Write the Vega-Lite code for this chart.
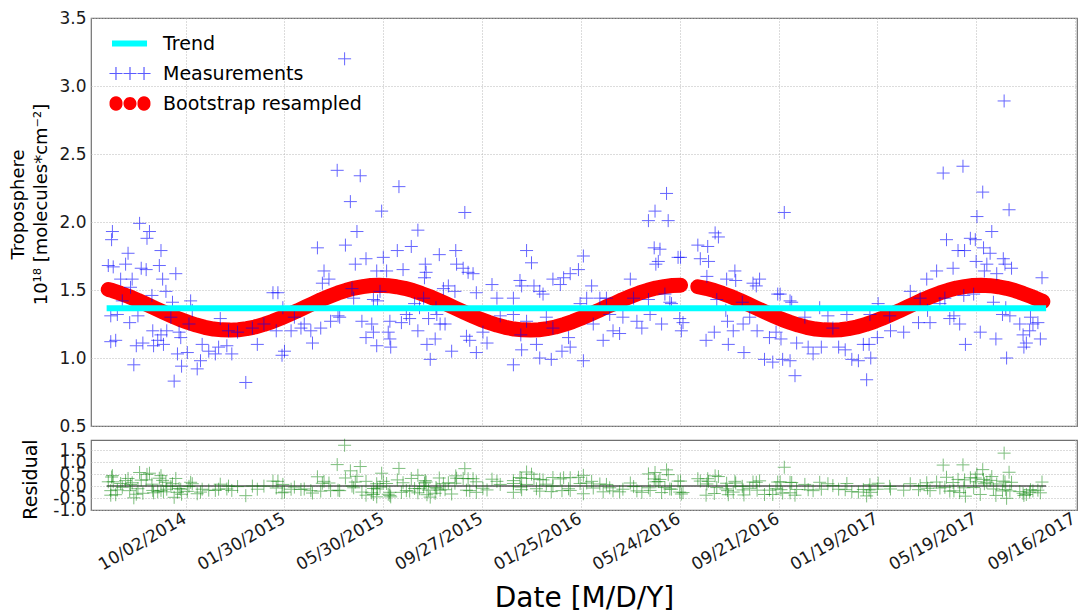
{
  "$schema": "https://vega.github.io/schema/vega-lite/v6.json",
  "padding": {"left": 8, "top": 8, "right": 0, "bottom": 0},
  "background": "white",
  "config": {
    "font": "DejaVu Sans",
    "view": {"stroke": "#707070", "strokeWidth": 1.2},
    "axis": {"grid": true, "gridColor": "#b8b8b8", "gridDash": [1, 2], "gridWidth": 1, "domain": false, "ticks": false, "tickSize": 0, "labelFont": "DejaVu Sans", "titleFont": "DejaVu Sans", "labelColor": "#1a1a1a", "titleColor": "#000000", "titleFontWeight": "normal"}
  },
  "datasets": {
    "leg": [],
    "trend": [{"d": "2014-06-28", "v": 1.365}, {"d": "2017-08-12", "v": 1.365}],
    "zero": [{"d": "2014-06-28", "r": 0}, {"d": "2017-08-12", "r": 0}],
    "boot": [
      {"d":"2014-06-30","v":1.504,"s":1},{"d":"2014-07-05","v":1.496,"s":1},{"d":"2014-07-15","v":1.475,"s":1},{"d":"2014-07-25","v":1.452,"s":1},
      {"d":"2014-08-05","v":1.424,"s":1},{"d":"2014-08-15","v":1.396,"s":1},{"d":"2014-08-25","v":1.368,"s":1},
      {"d":"2014-09-05","v":1.337,"s":1},{"d":"2014-09-15","v":1.310,"s":1},{"d":"2014-09-25","v":1.284,"s":1},
      {"d":"2014-10-05","v":1.262,"s":1},{"d":"2014-10-15","v":1.242,"s":1},{"d":"2014-10-25","v":1.226,"s":1},
      {"d":"2014-11-05","v":1.213,"s":1},{"d":"2014-11-15","v":1.207,"s":1},{"d":"2014-11-25","v":1.205,"s":1},
      {"d":"2014-12-05","v":1.208,"s":1},{"d":"2014-12-15","v":1.216,"s":1},{"d":"2014-12-25","v":1.228,"s":1},
      {"d":"2015-01-05","v":1.247,"s":1},{"d":"2015-01-15","v":1.268,"s":1},{"d":"2015-01-25","v":1.292,"s":1},
      {"d":"2015-02-05","v":1.321,"s":1},{"d":"2015-02-15","v":1.348,"s":1},{"d":"2015-02-25","v":1.377,"s":1},
      {"d":"2015-03-05","v":1.399,"s":1},{"d":"2015-03-15","v":1.427,"s":1},{"d":"2015-03-25","v":1.452,"s":1},
      {"d":"2015-04-05","v":1.478,"s":1},{"d":"2015-04-15","v":1.498,"s":1},{"d":"2015-04-25","v":1.514,"s":1},
      {"d":"2015-05-05","v":1.525,"s":1},{"d":"2015-05-15","v":1.533,"s":1},{"d":"2015-05-25","v":1.535,"s":1},
      {"d":"2015-06-05","v":1.532,"s":1},{"d":"2015-06-15","v":1.524,"s":1},{"d":"2015-06-25","v":1.512,"s":1},
      {"d":"2015-07-05","v":1.496,"s":1},{"d":"2015-07-15","v":1.475,"s":1},{"d":"2015-07-25","v":1.452,"s":1},
      {"d":"2015-08-05","v":1.424,"s":1},{"d":"2015-08-15","v":1.396,"s":1},{"d":"2015-08-25","v":1.368,"s":1},
      {"d":"2015-09-05","v":1.337,"s":1},{"d":"2015-09-15","v":1.310,"s":1},{"d":"2015-09-25","v":1.284,"s":1},
      {"d":"2015-10-05","v":1.262,"s":1},{"d":"2015-10-15","v":1.242,"s":1},{"d":"2015-10-25","v":1.226,"s":1},
      {"d":"2015-11-05","v":1.213,"s":1},{"d":"2015-11-15","v":1.207,"s":1},{"d":"2015-11-25","v":1.205,"s":1},
      {"d":"2015-12-05","v":1.208,"s":1},{"d":"2015-12-15","v":1.216,"s":1},{"d":"2015-12-25","v":1.228,"s":1},
      {"d":"2016-01-05","v":1.247,"s":1},{"d":"2016-01-15","v":1.268,"s":1},{"d":"2016-01-25","v":1.292,"s":1},
      {"d":"2016-02-05","v":1.321,"s":1},{"d":"2016-02-15","v":1.348,"s":1},{"d":"2016-02-25","v":1.377,"s":1},
      {"d":"2016-03-05","v":1.399,"s":1},{"d":"2016-03-15","v":1.427,"s":1},{"d":"2016-03-25","v":1.452,"s":1},
      {"d":"2016-04-05","v":1.478,"s":1},{"d":"2016-04-15","v":1.498,"s":1},{"d":"2016-04-25","v":1.514,"s":1},
      {"d":"2016-05-05","v":1.525,"s":1},{"d":"2016-05-15","v":1.533,"s":1},{"d":"2016-05-25","v":1.535,"s":1},
      {"d":"2016-06-15","v":1.524,"s":2},{"d":"2016-06-25","v":1.512,"s":2},
      {"d":"2016-07-05","v":1.496,"s":2},{"d":"2016-07-15","v":1.475,"s":2},{"d":"2016-07-25","v":1.452,"s":2},
      {"d":"2016-08-05","v":1.424,"s":2},{"d":"2016-08-15","v":1.396,"s":2},{"d":"2016-08-25","v":1.368,"s":2},
      {"d":"2016-09-05","v":1.337,"s":2},{"d":"2016-09-15","v":1.310,"s":2},{"d":"2016-09-25","v":1.284,"s":2},
      {"d":"2016-10-05","v":1.262,"s":2},{"d":"2016-10-15","v":1.242,"s":2},{"d":"2016-10-25","v":1.226,"s":2},
      {"d":"2016-11-05","v":1.213,"s":2},{"d":"2016-11-15","v":1.207,"s":2},{"d":"2016-11-25","v":1.205,"s":2},
      {"d":"2016-12-05","v":1.208,"s":2},{"d":"2016-12-15","v":1.216,"s":2},{"d":"2016-12-25","v":1.228,"s":2},
      {"d":"2017-01-05","v":1.247,"s":2},{"d":"2017-01-15","v":1.268,"s":2},{"d":"2017-01-25","v":1.292,"s":2},
      {"d":"2017-02-05","v":1.321,"s":2},{"d":"2017-02-15","v":1.348,"s":2},{"d":"2017-02-25","v":1.377,"s":2},
      {"d":"2017-03-05","v":1.399,"s":2},{"d":"2017-03-15","v":1.427,"s":2},{"d":"2017-03-25","v":1.452,"s":2},
      {"d":"2017-04-05","v":1.478,"s":2},{"d":"2017-04-15","v":1.498,"s":2},{"d":"2017-04-25","v":1.514,"s":2},
      {"d":"2017-05-05","v":1.525,"s":2},{"d":"2017-05-15","v":1.533,"s":2},{"d":"2017-05-25","v":1.535,"s":2},
      {"d":"2017-06-05","v":1.532,"s":2},{"d":"2017-06-15","v":1.524,"s":2},{"d":"2017-06-25","v":1.512,"s":2},
      {"d":"2017-07-05","v":1.496,"s":2},{"d":"2017-07-15","v":1.475,"s":2},{"d":"2017-07-25","v":1.452,"s":2},
      {"d":"2017-08-05","v":1.424,"s":2},{"d":"2017-08-08","v":1.416,"s":2}
    ],
    "meas": [
      {"d":"2014-07-05","v":1.93,"r":0.44},{"d":"2014-07-04","v":1.87,"r":0.38},{"d":"2014-08-07","v":1.99,"r":0.57},{"d":"2014-08-19","v":1.93,"r":0.54},
      {"d":"2014-08-16","v":1.88,"r":0.49},{"d":"2014-07-24","v":1.77,"r":0.32},{"d":"2014-09-02","v":1.79,"r":0.44},{"d":"2014-06-30","v":1.68,"r":0.18},
      {"d":"2014-07-06","v":1.67,"r":0.18},{"d":"2014-07-21","v":1.69,"r":0.23},{"d":"2014-08-09","v":1.66,"r":0.25},{"d":"2014-08-15","v":1.65,"r":0.26},
      {"d":"2014-08-31","v":1.68,"r":0.33},{"d":"2014-09-20","v":1.62,"r":0.32},{"d":"2014-07-15","v":1.58,"r":0.11},{"d":"2014-07-29","v":1.58,"r":0.14},
      {"d":"2014-09-04","v":1.58,"r":0.24},{"d":"2014-09-08","v":1.49,"r":0.16},{"d":"2014-08-22","v":1.46,"r":0.08},{"d":"2014-07-27","v":1.52,"r":0.07},
      {"d":"2014-07-17","v":1.42,"r":-0.05},{"d":"2014-07-03","v":1.31,"r":-0.19},{"d":"2014-07-11","v":1.32,"r":-0.16},{"d":"2014-08-05","v":1.31,"r":-0.11},
      {"d":"2014-07-26","v":1.26,"r":-0.19},{"d":"2014-09-16","v":1.41,"r":0.10},{"d":"2014-10-08","v":1.42,"r":0.16},{"d":"2014-10-10","v":1.35,"r":0.10},
      {"d":"2014-09-14","v":1.30,"r":-0.01},{"d":"2014-08-23","v":1.20,"r":-0.18},{"d":"2014-09-02","v":1.17,"r":-0.18},{"d":"2014-09-09","v":1.20,"r":-0.13},
      {"d":"2014-09-24","v":1.19,"r":-0.10},{"d":"2014-08-29","v":1.13,"r":-0.23},{"d":"2014-07-03","v":1.12,"r":-0.38},{"d":"2014-07-09","v":1.13,"r":-0.36},
      {"d":"2014-08-03","v":1.09,"r":-0.34},{"d":"2014-08-11","v":1.11,"r":-0.30},{"d":"2014-08-24","v":1.09,"r":-0.28},{"d":"2014-09-05","v":1.10,"r":-0.24},
      {"d":"2014-09-26","v":1.15,"r":-0.13},{"d":"2014-09-22","v":1.03,"r":-0.26},{"d":"2014-10-04","v":1.04,"r":-0.22},{"d":"2014-07-31","v":0.95,"r":-0.49},
      {"d":"2014-09-27","v":0.94,"r":-0.34},{"d":"2014-10-20","v":0.98,"r":-0.25},{"d":"2014-10-16","v":0.92,"r":-0.32},{"d":"2014-09-18","v":0.83,"r":-0.47},
      {"d":"2014-10-22","v":1.10,"r":-0.13},{"d":"2014-10-30","v":1.05,"r":-0.17},{"d":"2014-11-11","v":1.08,"r":-0.13},{"d":"2014-11-21","v":1.09,"r":-0.12},
      {"d":"2014-11-27","v":1.03,"r":-0.18},{"d":"2014-11-07","v":1.03,"r":-0.18},{"d":"2014-11-13","v":1.29,"r":0.08},{"d":"2014-11-23","v":1.20,"r":0.00},
      {"d":"2014-10-06","v":1.25,"r":-0.01},{"d":"2014-12-14","v":0.82,"r":-0.40},{"d":"2014-12-28","v":1.10,"r":-0.13},{"d":"2015-01-16","v":1.48,"r":0.21},
      {"d":"2015-01-22","v":1.48,"r":0.20},{"d":"2015-01-28","v":1.37,"r":0.07},{"d":"2015-01-30","v":1.05,"r":-0.25},{"d":"2015-01-27","v":1.02,"r":-0.28},
      {"d":"2015-01-20","v":1.20,"r":-0.08},{"d":"2015-02-11","v":1.30,"r":-0.04},{"d":"2015-02-23","v":1.25,"r":-0.12},{"d":"2015-03-03","v":1.20,"r":-0.19},
      {"d":"2015-03-05","v":1.11,"r":-0.29},{"d":"2015-03-15","v":1.22,"r":-0.21},{"d":"2015-03-27","v":1.27,"r":-0.19},{"d":"2015-04-05","v":1.31,"r":-0.17},
      {"d":"2015-03-11","v":1.81,"r":0.39},{"d":"2015-03-19","v":1.64,"r":0.20},{"d":"2015-03-17","v":1.55,"r":0.12},{"d":"2015-03-25","v":1.58,"r":0.13},
      {"d":"2015-04-04","v":2.38,"r":0.90},{"d":"2015-02-19","v":1.22,"r":-0.14},{"d":"2015-02-07","v":1.20,"r":-0.13},{"d":"2014-12-22","v":1.22,"r":0.00},
      {"d":"2015-01-05","v":1.25,"r":0.00},{"d":"2014-12-04","v":1.19,"r":-0.02},{"d":"2015-04-13","v":3.20,"r":1.71},
      {"d":"2015-05-02","v":2.34,"r":0.82},{"d":"2015-06-18","v":2.26,"r":0.74},{"d":"2015-04-20","v":2.15,"r":0.64},{"d":"2015-05-28","v":2.08,"r":0.54},
      {"d":"2015-09-06","v":2.07,"r":0.73},{"d":"2015-04-28","v":1.93,"r":0.41},{"d":"2015-07-11","v":1.94,"r":0.45},{"d":"2015-04-14","v":1.83,"r":0.34},
      {"d":"2015-06-16","v":1.79,"r":0.26},{"d":"2015-07-03","v":1.82,"r":0.32},{"d":"2015-08-06","v":1.76,"r":0.34},{"d":"2015-08-26","v":1.79,"r":0.43},
      {"d":"2015-11-20","v":1.79,"r":0.59},{"d":"2015-11-26","v":1.70,"r":0.50},{"d":"2016-01-28","v":1.75,"r":0.45},{"d":"2015-04-26","v":1.69,"r":0.17},
      {"d":"2015-05-09","v":1.73,"r":0.20},{"d":"2015-05-30","v":1.74,"r":0.20},{"d":"2015-07-20","v":1.69,"r":0.23},{"d":"2015-07-21","v":1.63,"r":0.17},
      {"d":"2015-06-23","v":1.65,"r":0.14},{"d":"2015-08-27","v":1.69,"r":0.33},{"d":"2015-09-04","v":1.66,"r":0.32},{"d":"2015-09-10","v":1.63,"r":0.31},
      {"d":"2015-05-22","v":1.64,"r":0.10},{"d":"2015-06-03","v":1.64,"r":0.11},{"d":"2015-07-19","v":1.59,"r":0.13},{"d":"2015-09-16","v":1.62,"r":0.31},
      {"d":"2015-10-09","v":1.54,"r":0.29},{"d":"2015-11-12","v":1.57,"r":0.36},{"d":"2015-11-14","v":1.53,"r":0.32},{"d":"2015-11-29","v":1.53,"r":0.32},
      {"d":"2015-12-22","v":1.58,"r":0.36},{"d":"2016-01-04","v":1.59,"r":0.35},{"d":"2016-01-12","v":1.62,"r":0.35},{"d":"2016-01-22","v":1.65,"r":0.37},
      {"d":"2015-12-31","v":1.54,"r":0.30},{"d":"2015-12-10","v":1.47,"r":0.26},{"d":"2015-12-06","v":1.49,"r":0.28},{"d":"2015-10-15","v":1.44,"r":0.20},
      {"d":"2015-11-04","v":1.44,"r":0.23},{"d":"2015-09-20","v":1.48,"r":0.18},{"d":"2015-08-17","v":1.53,"r":0.14},{"d":"2015-08-11","v":1.51,"r":0.10},
      {"d":"2015-08-25","v":1.49,"r":0.12},{"d":"2015-05-18","v":1.43,"r":-0.10},{"d":"2015-05-23","v":1.42,"r":-0.12},{"d":"2015-04-24","v":1.44,"r":-0.07},
      {"d":"2015-07-07","v":1.40,"r":-0.10},{"d":"2015-07-18","v":1.44,"r":-0.02},{"d":"2015-04-07","v":1.30,"r":-0.19},{"d":"2015-05-04","v":1.27,"r":-0.25},
      {"d":"2015-05-16","v":1.25,"r":-0.28},{"d":"2015-06-07","v":1.27,"r":-0.26},{"d":"2015-06-21","v":1.26,"r":-0.26},{"d":"2015-07-01","v":1.29,"r":-0.21},
      {"d":"2015-07-24","v":1.29,"r":-0.17},{"d":"2015-08-03","v":1.32,"r":-0.11},{"d":"2015-08-07","v":1.25,"r":-0.17},{"d":"2015-08-13","v":1.25,"r":-0.15},
      {"d":"2015-10-19","v":1.31,"r":0.07},{"d":"2015-11-04","v":1.32,"r":0.11},{"d":"2015-11-20","v":1.27,"r":0.07},{"d":"2015-05-18","v":1.19,"r":-0.35},
      {"d":"2015-06-05","v":1.19,"r":-0.34},{"d":"2015-07-11","v":1.20,"r":-0.28},{"d":"2015-05-09","v":1.15,"r":-0.38},{"d":"2015-06-07","v":1.14,"r":-0.39},
      {"d":"2015-09-08","v":1.16,"r":-0.17},{"d":"2015-09-12","v":1.13,"r":-0.19},{"d":"2015-10-03","v":1.11,"r":-0.16},{"d":"2015-05-22","v":1.09,"r":-0.45},
      {"d":"2015-06-08","v":1.08,"r":-0.45},{"d":"2015-07-22","v":1.10,"r":-0.36},{"d":"2015-08-01","v":1.14,"r":-0.30},{"d":"2015-08-21","v":1.05,"r":-0.33},
      {"d":"2015-09-20","v":1.04,"r":-0.26},{"d":"2015-07-26","v":0.99,"r":-0.46},{"d":"2015-11-04","v":0.95,"r":-0.26},{"d":"2015-11-14","v":1.06,"r":-0.15},
      {"d":"2015-12-02","v":1.10,"r":-0.11},{"d":"2015-12-06","v":1.00,"r":-0.21},{"d":"2015-12-20","v":0.99,"r":-0.23},{"d":"2016-01-02","v":1.05,"r":-0.19},
      {"d":"2016-01-12","v":1.08,"r":-0.18},{"d":"2016-01-28","v":0.98,"r":-0.32},{"d":"2016-01-10","v":1.15,"r":-0.11},{"d":"2015-12-22","v":1.22,"r":0.00},
      {"d":"2015-08-02","v":1.37,"r":-0.06},{"d":"2015-06-27","v":1.32,"r":-0.19},{"d":"2015-07-13","v":1.37,"r":-0.11},{"d":"2015-11-13","v":1.17,"r":-0.04},
      {"d":"2015-09-28","v":1.19,"r":-0.09},{"d":"2016-02-01","v":1.44,"r":0.13},{"d":"2015-12-14","v":1.30,"r":0.08},{"d":"2016-01-24","v":1.40,"r":0.11},
      {"d":"2015-04-22","v":1.51,"r":0.00},{"d":"2015-05-26","v":1.49,"r":-0.04},
      {"d":"2016-05-08","v":2.21,"r":0.68},{"d":"2016-04-24","v":2.08,"r":0.57},{"d":"2016-04-16","v":2.01,"r":0.51},{"d":"2016-05-10","v":2.01,"r":0.48},
      {"d":"2016-09-28","v":2.07,"r":0.79},{"d":"2016-04-23","v":1.81,"r":0.30},{"d":"2016-04-30","v":1.80,"r":0.28},{"d":"2016-04-28","v":1.71,"r":0.19},
      {"d":"2016-04-25","v":1.69,"r":0.18},{"d":"2016-05-22","v":1.74,"r":0.21},{"d":"2016-05-25","v":1.74,"r":0.21},{"d":"2016-06-15","v":1.83,"r":0.31},
      {"d":"2016-06-27","v":1.82,"r":0.31},{"d":"2016-07-06","v":1.92,"r":0.43},{"d":"2016-07-10","v":1.89,"r":0.40},{"d":"2016-06-18","v":1.73,"r":0.21},
      {"d":"2016-06-28","v":1.71,"r":0.20},{"d":"2016-06-26","v":1.60,"r":0.09},{"d":"2016-07-30","v":1.64,"r":0.20},{"d":"2016-07-20","v":1.58,"r":0.12},
      {"d":"2016-07-31","v":1.57,"r":0.13},{"d":"2016-08-21","v":1.55,"r":0.17},{"d":"2016-08-29","v":1.58,"r":0.22},{"d":"2016-08-25","v":1.53,"r":0.16},
      {"d":"2016-03-25","v":1.58,"r":0.13},{"d":"2016-02-07","v":1.53,"r":0.20},{"d":"2016-02-17","v":1.44,"r":0.09},{"d":"2016-02-25","v":1.44,"r":0.07},
      {"d":"2016-04-16","v":1.43,"r":-0.07},{"d":"2016-05-12","v":1.41,"r":-0.12},{"d":"2016-05-14","v":1.40,"r":-0.13},{"d":"2016-09-23","v":1.47,"r":0.18},
      {"d":"2016-10-07","v":1.41,"r":0.15},{"d":"2016-07-08","v":1.43,"r":-0.06},{"d":"2016-07-19","v":1.35,"r":-0.12},{"d":"2016-02-29","v":1.32,"r":-0.07},
      {"d":"2016-03-16","v":1.30,"r":-0.13},{"d":"2016-04-02","v":1.27,"r":-0.20},{"d":"2016-04-18","v":1.32,"r":-0.18},{"d":"2016-05-02","v":1.25,"r":-0.27},
      {"d":"2016-05-24","v":1.29,"r":-0.25},{"d":"2016-05-28","v":1.26,"r":-0.27},{"d":"2016-03-04","v":1.20,"r":-0.20},{"d":"2016-04-08","v":1.22,"r":-0.26},
      {"d":"2016-05-26","v":1.20,"r":-0.33},{"d":"2016-03-12","v":1.18,"r":-0.24},{"d":"2016-02-21","v":1.13,"r":-0.24},{"d":"2016-07-21","v":1.27,"r":-0.19},
      {"d":"2016-08-09","v":1.25,"r":-0.16},{"d":"2016-08-17","v":1.30,"r":-0.09},{"d":"2016-08-26","v":1.20,"r":-0.17},{"d":"2016-07-05","v":1.19,"r":-0.31},
      {"d":"2016-06-25","v":1.13,"r":-0.38},{"d":"2016-07-22","v":1.10,"r":-0.36},{"d":"2016-08-10","v":1.04,"r":-0.37},{"d":"2016-07-28","v":1.20,"r":-0.25},
      {"d":"2016-09-10","v":1.15,"r":-0.17},{"d":"2016-09-18","v":1.19,"r":-0.11},{"d":"2016-09-24","v":1.14,"r":-0.15},{"d":"2016-10-13","v":1.11,"r":-0.14},
      {"d":"2016-09-04","v":0.99,"r":-0.35},{"d":"2016-09-14","v":0.97,"r":-0.35},{"d":"2016-09-26","v":0.99,"r":-0.29},{"d":"2016-10-05","v":0.98,"r":-0.28},
      {"d":"2016-10-11","v":0.87,"r":-0.38},{"d":"2016-10-23","v":1.30,"r":0.07},{"d":"2016-10-27","v":1.08,"r":-0.15},{"d":"2016-11-02","v":1.03,"r":-0.19},
      {"d":"2016-11-12","v":1.08,"r":-0.13},{"d":"2016-11-20","v":1.31,"r":0.10},{"d":"2016-11-10","v":1.37,"r":0.16},{"d":"2016-12-03","v":1.08,"r":-0.13},
      {"d":"2016-09-20","v":1.47,"r":0.17},{"d":"2016-10-05","v":1.42,"r":0.16},{"d":"2016-08-08","v":1.41,"r":-0.01},{"d":"2016-02-09","v":1.25,"r":-0.08},
      {"d":"2016-03-29","v":1.44,"r":-0.02},{"d":"2016-05-06","v":1.47,"r":-0.06},
      {"d":"2017-04-09","v":2.36,"r":0.88},{"d":"2017-05-03","v":2.41,"r":0.89},{"d":"2017-05-27","v":2.22,"r":0.69},{"d":"2017-06-28","v":2.09,"r":0.58},
      {"d":"2017-05-20","v":2.04,"r":0.50},{"d":"2017-06-07","v":1.93,"r":0.40},{"d":"2017-04-13","v":1.87,"r":0.37},{"d":"2017-05-12","v":1.88,"r":0.35},
      {"d":"2017-05-18","v":1.87,"r":0.34},{"d":"2017-04-27","v":1.79,"r":0.28},{"d":"2017-05-05","v":1.79,"r":0.26},{"d":"2017-05-28","v":1.81,"r":0.28},
      {"d":"2017-06-05","v":1.77,"r":0.24},{"d":"2017-05-19","v":1.71,"r":0.18},{"d":"2017-06-01","v":1.69,"r":0.16},{"d":"2017-06-21","v":1.73,"r":0.21},
      {"d":"2017-07-01","v":1.66,"r":0.16},{"d":"2017-06-23","v":1.69,"r":0.17},{"d":"2017-04-21","v":1.66,"r":0.15},{"d":"2017-04-01","v":1.64,"r":0.17},
      {"d":"2017-03-20","v":1.58,"r":0.14},{"d":"2017-05-29","v":1.64,"r":0.10},{"d":"2017-06-13","v":1.62,"r":0.09},{"d":"2017-08-07","v":1.59,"r":0.17},
      {"d":"2017-02-28","v":1.49,"r":0.10},{"d":"2017-01-20","v":1.40,"r":0.12},{"d":"2017-05-04","v":1.46,"r":-0.07},{"d":"2017-04-11","v":1.44,"r":-0.05},
      {"d":"2017-04-05","v":1.40,"r":-0.08},{"d":"2017-06-09","v":1.41,"r":-0.12},{"d":"2017-06-20","v":1.32,"r":-0.20},{"d":"2017-06-29","v":1.31,"r":-0.20},
      {"d":"2016-12-13","v":1.32,"r":0.11},{"d":"2017-01-10","v":1.32,"r":0.06},{"d":"2017-02-03","v":1.31,"r":-0.01},{"d":"2017-03-24","v":1.26,"r":-0.19},
      {"d":"2017-04-17","v":1.29,"r":-0.21},{"d":"2017-04-29","v":1.25,"r":-0.27},{"d":"2017-03-10","v":1.26,"r":-0.15},{"d":"2017-07-27","v":1.25,"r":-0.20},
      {"d":"2017-08-02","v":1.26,"r":-0.17},{"d":"2017-07-23","v":1.20,"r":-0.26},{"d":"2017-07-15","v":1.17,"r":-0.30},{"d":"2017-07-11","v":1.25,"r":-0.23},
      {"d":"2017-02-20","v":1.19,"r":-0.17},{"d":"2017-02-04","v":1.20,"r":-0.12},{"d":"2017-01-19","v":1.15,"r":-0.13},{"d":"2017-01-09","v":1.10,"r":-0.16},
      {"d":"2017-01-02","v":1.10,"r":-0.14},{"d":"2016-12-11","v":1.06,"r":-0.15},{"d":"2016-12-19","v":0.99,"r":-0.23},{"d":"2016-12-27","v":0.98,"r":-0.25},
      {"d":"2017-01-11","v":1.00,"r":-0.26},{"d":"2017-01-06","v":0.84,"r":-0.41},{"d":"2017-05-24","v":1.19,"r":-0.35},{"d":"2017-05-06","v":1.10,"r":-0.42},
      {"d":"2017-06-12","v":1.14,"r":-0.39},{"d":"2017-06-25","v":1.00,"r":-0.51},{"d":"2017-07-16","v":1.08,"r":-0.39},{"d":"2017-07-19","v":1.11,"r":-0.35},
      {"d":"2017-08-05","v":1.14,"r":-0.28},{"d":"2016-11-26","v":1.22,"r":0.02},{"d":"2017-03-12","v":1.44,"r":0.02},{"d":"2017-03-21","v":1.35,"r":-0.09},
      {"d":"2017-04-22","v":1.31,"r":-0.20},{"d":"2017-05-16","v":1.47,"r":-0.06},{"d":"2017-06-24","v":1.37,"r":-0.14},{"d":"2017-07-24","v":1.30,"r":-0.15},
      {"d":"2017-06-22","v":2.89,"r":1.38}
    ]
  },
  "spacing": 1,
  "resolve": {"scale": {"color": "independent", "shape": "independent"}, "legend": {"color": "independent", "shape": "independent"}},
  "vconcat": [
    {
      "width": 986,
      "height": 408,
      "encoding": {
        "x": {
          "field": "d", "type": "temporal",
          "scale": {"type": "utc", "domain": [{"year": 2014, "month": 6, "date": 9, "utc": true}, {"year": 2017, "month": 9, "date": 18, "hours": 12, "utc": true}]},
          "axis": {
            "values": [
              {"year": 2014, "month": 10, "date": 2, "utc": true}, {"year": 2015, "month": 1, "date": 30, "utc": true},
              {"year": 2015, "month": 5, "date": 30, "utc": true}, {"year": 2015, "month": 9, "date": 27, "utc": true},
              {"year": 2016, "month": 1, "date": 25, "utc": true}, {"year": 2016, "month": 5, "date": 24, "utc": true},
              {"year": 2016, "month": 9, "date": 21, "utc": true}, {"year": 2017, "month": 1, "date": 19, "utc": true},
              {"year": 2017, "month": 5, "date": 19, "utc": true}, {"year": 2017, "month": 9, "date": 16, "utc": true}
            ],
            "labels": false, "title": null
          }
        },
        "y": {
          "field": "v", "type": "quantitative",
          "scale": {"domain": [0.5, 3.5], "nice": false, "zero": false},
          "axis": {
            "values": [0.5, 1, 1.5, 2, 2.5, 3, 3.5], "format": ".1f", "labelFontSize": 17, "labelPadding": 5,
            "title": ["Troposphere", "10¹⁸ [molecules*cm⁻²]"], "titleFontSize": 18, "titleX": -64, "titleY": 186,
            "titleAngle": 270, "titleAlign": "center", "titleBaseline": "bottom", "titleLineHeight": 23
          }
        }
      },
      "layer": [
        {"data": {"name": "boot"}, "mark": {"type": "line", "color": "#ff0000", "strokeWidth": 15, "strokeCap": "round", "strokeJoin": "round"}, "encoding": {"detail": {"field": "s", "type": "nominal"}}},
        {"data": {"name": "boot"}, "mark": {"type": "point", "shape": "circle", "filled": true, "color": "#ff0000", "opacity": 1, "size": 185, "strokeWidth": 0}},
        {"data": {"name": "meas"}, "mark": {"type": "point", "shape": "M-1,0H1M0,-1V1", "filled": false, "color": "#0000ff", "size": 169, "strokeWidth": 1, "opacity": 0.6}},
        {"data": {"name": "trend"}, "mark": {"type": "line", "color": "#00ffff", "strokeWidth": 6, "strokeCap": "butt"}, "encoding": {}},
        {
          "data": {"name": "leg"},
          "mark": {"type": "point", "filled": true, "opacity": 1, "strokeWidth": 0},
          "encoding": {
            "color": {
              "field": "series", "type": "nominal",
              "scale": {"domain": ["Trend", "Measurements", "Bootstrap resampled"], "range": ["#00ffff", "#5a5aff", "#ff0000"]},
              "legend": {
                "title": null, "orient": "top-left", "offset": 16, "padding": 0,
                "labelFontSize": 19, "labelColor": "#000000", "labelFont": "DejaVu Sans", "labelOffset": 37, "labelLimit": 400,
                "symbolSize": 225, "rowPadding": 10, "symbolStrokeWidth": 0, "symbolOpacity": 1
              }
            },
            "shape": {
              "field": "series", "type": "nominal",
              "scale": {"domain": ["Trend", "Measurements", "Bootstrap resampled"], "range": [
                "M-0.6,-0.4H4.07V0.4H-0.6Z",
                "M-0.94,-0.08H0.8V0.08H-0.94ZM-0.15,-0.87H0.01V0.87H-0.15ZM0.93,-0.08H2.67V0.08H0.93ZM1.72,-0.87H1.88V0.87H1.72ZM2.8,-0.08H4.54V0.08H2.8ZM3.59,-0.87H3.75V0.87H3.59Z",
                "M-0.93,0A0.87,0.87,0,1,1,0.8,0A0.87,0.87,0,1,1,-0.93,0ZM0.93,0A0.87,0.87,0,1,1,2.67,0A0.87,0.87,0,1,1,0.93,0ZM2.8,0A0.87,0.87,0,1,1,4.53,0A0.87,0.87,0,1,1,2.8,0Z"
              ]},
              "legend": {
                "title": null, "orient": "top-left", "offset": 16, "padding": 0,
                "labelFontSize": 19, "labelColor": "#000000", "labelFont": "DejaVu Sans", "labelOffset": 37, "labelLimit": 400,
                "symbolSize": 225, "rowPadding": 10, "symbolStrokeWidth": 0, "symbolOpacity": 1
              }
            }
          }
        }
      ]
    },
    {
      "width": 986,
      "height": 70,
      "encoding": {
        "x": {
          "field": "d", "type": "temporal",
          "scale": {"type": "utc", "domain": [{"year": 2014, "month": 6, "date": 9, "utc": true}, {"year": 2017, "month": 9, "date": 18, "hours": 12, "utc": true}]},
          "axis": {
            "values": [
              {"year": 2014, "month": 10, "date": 2, "utc": true}, {"year": 2015, "month": 1, "date": 30, "utc": true},
              {"year": 2015, "month": 5, "date": 30, "utc": true}, {"year": 2015, "month": 9, "date": 27, "utc": true},
              {"year": 2016, "month": 1, "date": 25, "utc": true}, {"year": 2016, "month": 5, "date": 24, "utc": true},
              {"year": 2016, "month": 9, "date": 21, "utc": true}, {"year": 2017, "month": 1, "date": 19, "utc": true},
              {"year": 2017, "month": 5, "date": 19, "utc": true}, {"year": 2017, "month": 9, "date": 16, "utc": true}
            ],
            "format": "%m/%d/%Y", "labelAngle": -30, "labelAlign": "right", "labelBaseline": "top",
            "labelFontSize": 17, "labelPadding": 0, "labelOffset": -5, "labelFlush": false, "labelOverlap": false,
            "title": "Date [M/D/Y]", "titleFontSize": 28, "titlePadding": 12
          }
        },
        "y": {
          "field": "r", "type": "quantitative",
          "scale": {"domain": [-1, 1.93], "nice": false, "zero": false},
          "axis": {
            "values": [-1, -0.5, 0, 0.5, 1, 1.5], "labelExpr": "replace(format(datum.value, '.1f'), '−', '-')",
            "labelFontSize": 17, "labelPadding": 5, "labelOverlap": false,
            "title": "Residual", "titleFontSize": 19, "titleX": -51, "titleY": 39,
            "titleAngle": 270, "titleAlign": "center", "titleBaseline": "bottom"
          }
        }
      },
      "layer": [
        {"data": {"name": "zero"}, "mark": {"type": "line", "color": "#555555", "strokeWidth": 1.5}, "encoding": {}},
        {"data": {"name": "meas"}, "mark": {"type": "point", "shape": "M-1,0H1M0,-1V1", "filled": false, "size": 169, "strokeWidth": 1, "color": "#008000", "opacity": 0.5}}
      ]
    }
  ]
}
